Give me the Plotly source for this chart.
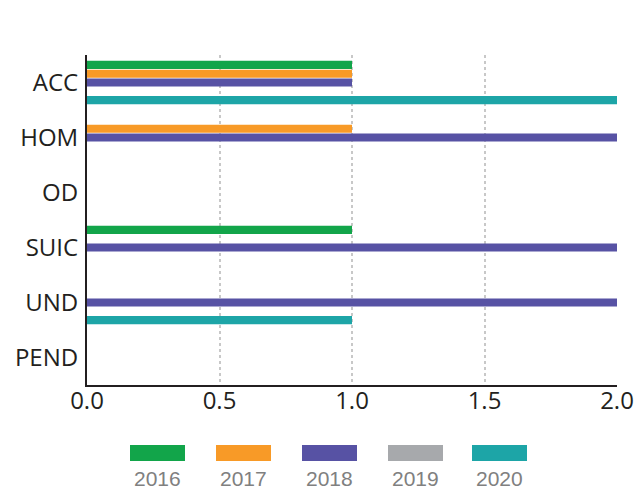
import plotly.graph_objects as go

categories = ["ACC", "HOM", "OD", "SUIC", "UND", "PEND"]
years = ["2016", "2017", "2018", "2019", "2020"]
colors = ["#12A54A", "#F89A27", "#5752A4", "#A7A9AC", "#1DA5A7"]
v2016 = [1, 0, 0, 1, 0, 0]
v2017 = [1, 1, 0, 0, 0, 0]
v2018 = [1, 2, 0, 2, 2, 0]
v2019 = [0, 0, 0, 0, 0, 0]
v2020 = [2, 0, 0, 0, 1, 0]
series = [v2016, v2017, v2018, v2019, v2020]
x_ticks = [0, 0.5, 1.0, 1.5, 2.0]
x_tick_labels = ["0.0", "0.5", "1.0", "1.5", "2.0"]

W, H = 637, 490
ML, MR, MT, MB = 87, 20, 55, 105
PW, PH = W - ML - MR, H - MT - MB

def px_x(x):
    return (x - ML) / PW

def px_y(y):
    return (H - MB - y) / PH

fig = go.Figure()
for name, vals, col in zip(years, series, colors):
    fig.add_trace(go.Bar(y=categories, x=vals, name=name, orientation="h",
                         marker=dict(color=col, line=dict(width=0)),
                         showlegend=False))

# custom legend (swatch above label)
legend_left = [130, 216, 302, 388, 472]
for name, col, lx in zip(years, colors, legend_left):
    fig.add_shape(type="rect", xref="paper", yref="paper",
                  x0=px_x(lx), x1=px_x(lx + 55), y0=px_y(461), y1=px_y(445),
                  fillcolor=col, line=dict(width=0), layer="above")
    fig.add_annotation(xref="paper", yref="paper", x=px_x(lx + 27.5), y=px_y(478),
                       text=name, showarrow=False, xanchor="center", yanchor="middle",
                       font=dict(family="Liberation Sans, Arial", size=21, color="#808080"))

fig.update_layout(
    width=W, height=H,
    margin=dict(l=ML, r=MR, t=MT, b=MB, autoexpand=False),
    paper_bgcolor="white", plot_bgcolor="white",
    barmode="group", bargap=0.2, bargroupgap=0.08,
    font=dict(family="Open Sans", size=24, color="#231F20"),
)
fig.update_xaxes(range=[0, 2], tickvals=x_ticks, ticktext=x_tick_labels,
                 showgrid=True, gridcolor="#C8C8C8", griddash="dot", gridwidth=1.5,
                 showline=True, linecolor="#231F20", linewidth=2,
                 zeroline=False, ticks="", ticklabelstandoff=-7,
                 tickfont=dict(family="Open Sans", size=24, color="#231F20"))
fig.update_yaxes(categoryorder="array", categoryarray=categories, autorange="reversed",
                 showgrid=False, showline=True, linecolor="#231F20", linewidth=2,
                 zeroline=False, ticks="", ticklabelstandoff=2,
                 tickfont=dict(family="Open Sans", size=24, color="#231F20"))

fig.write_html("out.html", config={"displayModeBar": False},
               post_script="document.body.style.margin='0';")
